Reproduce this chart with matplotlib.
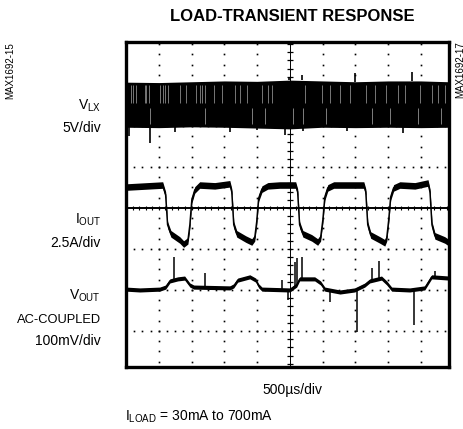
import matplotlib
matplotlib.use('Agg')
import matplotlib.pyplot as plt
import numpy as np

# all trace values in scope divisions (x: 500us/div, y: graticule divisions, centre line = 4)

# V_LX switching band: envelope
vlx_t = [0, 1, 2, 3, 4, 5, 6, 7, 8, 9, 9.86]
vlx_top = [7.07, 7.06, 7.08, 7.10, 7.09, 7.12, 7.10, 7.08, 7.10, 7.10, 7.08]
vlx_bot = [5.97, 5.96, 5.98, 5.97, 5.95, 5.93, 5.97, 5.96, 5.97, 5.96, 5.97]
vlx_spike_t = [0.10, 0.73, 1.49, 3.17, 3.99, 4.85, 5.40, 6.74, 8.45, 5.37, 6.98, 8.72, 4.99]
vlx_spike_tip = [5.75, 5.59, 5.85, 5.85, 5.90, 5.78, 5.88, 5.88, 5.83, 7.24, 7.29, 7.32, 7.20]
vlx_streak_hi = [0.15, 0.22, 0.30, 0.57, 0.62, 0.69, 1.03, 1.12, 1.18, 1.27, 1.64, 1.82,
                 2.13, 2.25, 2.31, 2.40, 2.68, 2.92, 3.32, 3.47, 3.69, 4.15, 4.33, 4.45,
                 5.46, 5.98, 6.22, 6.53, 6.83, 7.32, 7.60, 7.93, 8.30, 8.51, 8.97, 9.34,
                 9.52, 9.73]
vlx_streak_lo = [0.73, 2.40, 3.84, 4.24, 5.09, 5.40, 6.10, 7.50, 8.05, 8.91, 9.61]

# I_OUT square wave
iout_t = [0, 1.12, 1.21, 1.27, 1.37, 1.64, 1.76, 1.89, 1.95, 2.01, 2.10, 2.25, 2.71, 3.17,
          3.23, 3.29, 3.38, 3.66, 3.84, 3.93, 3.99, 4.05, 4.15, 4.33, 4.69, 5.18,
          5.24, 5.30, 5.40, 5.67, 5.85, 5.94, 6.01, 6.07, 6.16, 6.34, 6.83, 7.26,
          7.32, 7.38, 7.47, 7.75, 7.90, 7.96, 8.02, 8.08, 8.17, 8.36, 8.82, 9.22,
          9.28, 9.34, 9.43, 9.73, 9.86]
iout_v = [4.51, 4.56, 4.32, 3.59, 3.37, 3.22, 3.12, 3.20, 3.59, 4.20, 4.44, 4.56, 4.54, 4.59,
          4.39, 3.59, 3.37, 3.24, 3.17, 3.27, 3.66, 4.24, 4.46, 4.54, 4.56, 4.56,
          4.39, 3.59, 3.37, 3.27, 3.17, 3.27, 3.71, 4.27, 4.49, 4.56, 4.56, 4.56,
          4.39, 3.59, 3.34, 3.22, 3.15, 3.27, 3.71, 4.27, 4.49, 4.56, 4.54, 4.61,
          4.39, 3.59, 3.32, 3.22, 3.15]
iout_noise = 0.08

# V_OUT (AC coupled)
vout_t = [0, 0.42, 1.03, 1.21, 1.34, 1.58, 1.79, 1.95, 2.07, 3.17, 3.29, 3.41, 3.78, 3.96,
          4.05, 4.15, 5.0, 5.21, 5.30, 5.76, 5.94, 6.07, 6.53, 6.98, 7.29, 7.44, 7.80,
          7.96, 8.11, 8.66, 9.12, 9.33, 9.86]
vout_v = [2.02, 2.0, 2.02, 2.07, 2.22, 2.27, 2.29, 2.12, 2.07, 2.05, 2.10, 2.24, 2.32, 2.24,
          2.10, 2.02, 2.0, 2.12, 2.27, 2.27, 2.17, 2.02, 1.95, 2.0, 2.12, 2.22, 2.29,
          2.17, 2.02, 2.0, 2.05, 2.32, 2.29]
vout_noise = 0.05
vout_spike_t = [1.46, 2.40, 4.76, 5.15, 5.21, 5.37, 4.94, 6.22, 7.04, 7.50, 7.71, 8.79, 9.42]
vout_spike_tip = [2.80, 2.41, 2.24, 2.68, 2.78, 2.80, 1.76, 1.71, 0.98, 2.54, 2.71, 1.15, 2.46]

W, H = 464, 429
fig = plt.figure(figsize=(W / 100, H / 100), dpi=100)
ax = fig.add_axes([126 / W, 1 - 367 / H, (449 - 126) / W, 325 / H])
ax.set_xlim(0, 9.86)
ax.set_ylim(0.12, 8.05)
ax.set_xticks([])
ax.set_yticks([])
for s in ax.spines.values():
    s.set_linewidth(2.4)

# graticule
ys = np.arange(0, 8.3, 0.25)
xs = np.arange(0, 10.01, 0.25)
for gx in [1, 2, 3, 4, 6, 7, 8, 9]:
    ax.plot(np.full(len(ys), gx), ys, ls='', marker='s', ms=1.2, mew=0, color='black')
for gy in [1, 2, 3, 5, 6, 7]:
    ax.plot(xs, np.full(len(xs), gy), ls='', marker='s', ms=1.2, mew=0, color='black')
ax.axhline(4, color='black', lw=1.4)
ax.vlines(np.arange(0, 10, 0.2), 3.94, 4.06, color='black', lw=0.8)
ax.axvline(5, color='black', lw=0.7)
ax.hlines(np.arange(0.2, 8.05, 0.2), 4.91, 5.09, color='black', lw=0.9)

# V_LX
ax.fill_between(vlx_t, vlx_bot, vlx_top, color='black', lw=0, zorder=3)
ax.vlines(vlx_streak_hi, 6.55, 7.0, color='#8a8a8a', lw=0.6, zorder=4)
ax.vlines(vlx_streak_lo, 6.05, 6.45, color='#dddddd', lw=0.4, zorder=4)
vlx_base = np.where(np.array(vlx_spike_tip) > 6.5,
                    np.interp(vlx_spike_t, vlx_t, vlx_top),
                    np.interp(vlx_spike_t, vlx_t, vlx_bot))
ax.vlines(vlx_spike_t, vlx_base, vlx_spike_tip, color='black', lw=1.2, zorder=4)

# I_OUT
iv = np.array(iout_v)
ax.fill_between(iout_t, iv - iout_noise, iv + iout_noise, color='black', lw=0, zorder=3)
ax.plot(iout_t, iv, color='black', lw=1.1, zorder=3)

# V_OUT
vv = np.array(vout_v)
ax.fill_between(vout_t, vv - vout_noise, vv + vout_noise, color='black', lw=0, zorder=3)
ax.plot(vout_t, vv, color='black', lw=0.9, zorder=3)
ax.vlines(vout_spike_t, np.interp(vout_spike_t, vout_t, vout_v), vout_spike_tip,
          color='black', lw=1.1, zorder=3)

plt.rcParams['mathtext.fontset'] = 'custom'
plt.rcParams['mathtext.rm'] = 'Liberation Sans'
fam = ['Liberation Sans', 'DejaVu Sans']
lab = dict(family=fam, fontsize=10, ha='right', va='baseline')


def fx(x):
    return x / W


def fy(y):
    return 1 - y / H


fig.text(fx(292), fy(16.5), 'LOAD-TRANSIENT RESPONSE', family=fam,
         fontsize=12, fontweight='bold', ha='center', va='center')
fig.text(fx(101), fy(110), r'V$_{\mathrm{LX}}$', **lab)
fig.text(fx(101), fy(132), '5V/div', **lab)
fig.text(fx(101), fy(224), r'I$_{\mathrm{OUT}}$', **lab)
fig.text(fx(101), fy(247), '2.5A/div', **lab)
fig.text(fx(101), fy(300), r'V$_{\mathrm{OUT}}$', **lab)
fig.text(fx(101), fy(323), 'AC-COUPLED', family=fam, fontsize=9.3, ha='right', va='baseline')
fig.text(fx(101), fy(345), '100mV/div', **lab)
fig.text(fx(292), fy(394), '500µs/div', family=fam, fontsize=10, ha='center', va='baseline')
fig.text(fx(125), fy(421), r'I$_{\mathrm{LOAD}}$ = 30mA to 700mA', family=fam, fontsize=10,
         ha='left', va='baseline')
fig.text(fx(10), fy(71), 'MAX1692-15', family=fam, fontsize=7, rotation=90,
         ha='center', va='center')
fig.text(fx(460), fy(70), 'MAX1692-17', family=fam, fontsize=7, rotation=90,
         ha='center', va='center')

fig.savefig('out.png', dpi=100)
